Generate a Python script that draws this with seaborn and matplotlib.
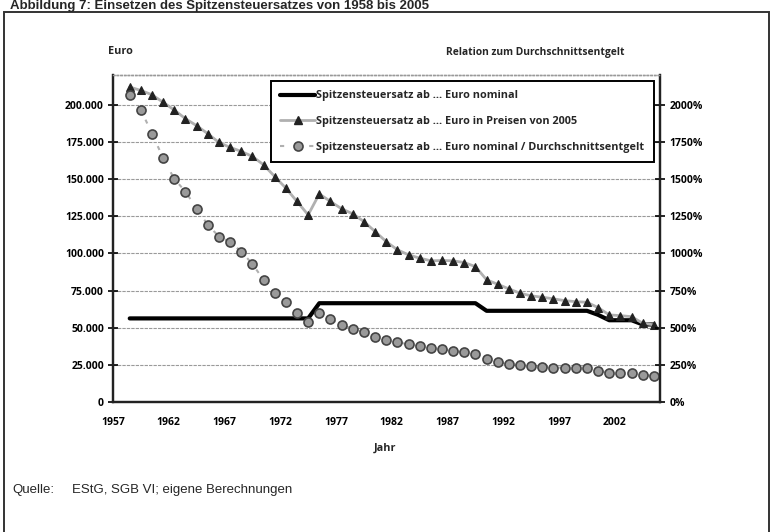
import numpy as np
import pandas as pd
import matplotlib
matplotlib.use("Agg")
import matplotlib.pyplot as plt
import seaborn as sns
from matplotlib.ticker import FuncFormatter
from matplotlib.patches import Rectangle
from matplotlib.lines import Line2D
from matplotlib import font_manager

# data
years = list(range(1958, 2006))

nominal = [56242] * 17 + [66468] * 15 + [61355] * 10 + [58643, 54998, 55008, 55008, 52152, 52152]

real_2005 = [211900, 209600, 206700, 201600, 196400, 190600, 185900, 180500, 174600, 171300,
             168600, 165200, 159600, 151700, 143900, 134900, 125900, 140000, 134900, 130000,
             126600, 121400, 114700, 107900, 102400, 99000, 96800, 95000, 95200, 95000,
             93800, 91100, 82200, 79200, 76100, 73200, 71400, 70500, 69400, 68200,
             67500, 67100, 63500, 58600, 58100, 57400, 53000, 51900]

ratio_pct = [2063, 1966, 1805, 1641, 1500, 1416, 1300, 1192, 1113, 1077,
             1012, 929, 822, 736, 671, 601, 541, 597, 559, 519,
             492, 469, 440, 418, 402, 388, 377, 366, 355, 343,
             335, 323, 287, 267, 256, 249, 245, 238, 231, 231,
             227, 227, 211, 197, 193, 193, 182, 177]

tick_years = [1957, 1962, 1967, 1972, 1977, 1982, 1987, 1992, 1997, 2002]
left_ticks = [0, 25000, 50000, 75000, 100000, 125000, 150000, 175000, 200000]
right_ticks = [0, 250, 500, 750, 1000, 1250, 1500, 1750, 2000]

labels = ["Spitzensteuersatz ab ... Euro nominal",
          "Spitzensteuersatz ab ... Euro in Preisen von 2005",
          "Spitzensteuersatz ab ... Euro nominal / Durchschnittsentgelt"]

df = pd.DataFrame({"Jahr": years, "nominal": nominal, "real": real_2005, "ratio": ratio_pct})

sns.set_style("white")
plt.rcParams["font.family"] = ["Open Sans", "DejaVu Sans"]

installed = {f.name for f in font_manager.fontManager.ttflist}
narrow = "Liberation Sans Narrow" if "Liberation Sans Narrow" in installed else "Liberation Sans"
src_size = 11 if narrow == "Liberation Sans Narrow" else 9.5

fig = plt.figure(figsize=(7.77, 5.32), dpi=100)
ax = fig.add_axes([113 / 777, 1 - 402 / 532, 547 / 777, 327 / 532])
ax2 = ax.twinx()

sns.lineplot(data=df, x="Jahr", y="nominal", ax=ax, color="black", lw=3)
sns.lineplot(data=df, x="Jahr", y="real", ax=ax, color="#b0b0b0", lw=2,
             marker="^", markersize=6, markerfacecolor="#222222", markeredgecolor="#222222")
sns.lineplot(data=df, x="Jahr", y="ratio", ax=ax2, color="#b0b0b0", lw=1.5,
             linestyle=(0, (2, 5)), marker="o", markersize=6.5,
             markerfacecolor="#9a9a9a", markeredgecolor="#444444", markeredgewidth=1.2)

ax.set_xlim(1956.5, 2005.55)
ax.set_ylim(0, 220000)
ax2.set_ylim(0, 2200)

ax.set_xticks([y - 0.5 for y in tick_years])
ax.set_xticklabels([str(y) for y in tick_years])
ax.set_yticks(left_ticks)
ax.yaxis.set_major_formatter(FuncFormatter(lambda v, p: f"{int(v):,}".replace(",", ".")))
ax2.set_yticks(right_ticks)
ax2.yaxis.set_major_formatter(FuncFormatter(lambda v, p: f"{int(v)}%"))

for a in (ax, ax2):
    a.set_xlabel("")
    a.set_ylabel("")
    a.tick_params(axis="both", direction="inout", length=7, width=1.2, labelsize=7.5, colors="black")
    for lab in a.get_xticklabels() + a.get_yticklabels():
        lab.set_fontweight("bold")
    for s in ("left", "right", "bottom"):
        a.spines[s].set_color("#222222")
        a.spines[s].set_linewidth(1.6)
    a.spines["top"].set_color("#999999")
    a.spines["top"].set_linestyle(":")
    a.spines["top"].set_linewidth(1.0)
ax.tick_params(axis="x", pad=7)
ax.tick_params(axis="y", pad=3)

ax.yaxis.grid(True, color="#9a9a9a", lw=0.8, ls=(0, (3, 1)))
ax.xaxis.grid(False)
ax2.grid(False)

handles = [Line2D([], [], color="black", lw=3),
           Line2D([], [], color="#b0b0b0", lw=2, marker="^", markersize=6,
                  markerfacecolor="#222222", markeredgecolor="#222222"),
           Line2D([], [], color="#b0b0b0", lw=1.5, linestyle=(0, (2, 5)), marker="o", markersize=6.5,
                  markerfacecolor="#9a9a9a", markeredgecolor="#444444", markeredgewidth=1.2)]
leg = ax2.legend(handles, labels, loc="upper right", bbox_to_anchor=(0.989, 0.983),
                 borderaxespad=0, fancybox=False, framealpha=1, edgecolor="black",
                 prop={"weight": "bold", "size": 7.8}, handlelength=3.2, handletextpad=0.1,
                 labelspacing=1.35, borderpad=0.9)
leg.get_frame().set_linewidth(1.4)

fig.text(120 / 777, 1 - 52 / 532, "Euro", ha="center", va="center", fontsize=7.8, fontweight="bold")
fig.text(535 / 777, 1 - 52 / 532, "Relation zum Durchschnittsentgelt", ha="center", va="center",
         fontsize=7.4, fontweight="bold")
fig.text(385 / 777, 1 - 448 / 532, "Jahr", ha="center", va="center", fontsize=7.8, fontweight="bold")

fig.text(12 / 777, 1 - 490 / 532, "Quelle:", ha="left", va="center", fontsize=src_size,
         family=narrow)
fig.text(72 / 777, 1 - 490 / 532, "EStG, SGB VI; eigene Berechnungen", ha="left", va="center",
         fontsize=src_size, family=narrow)

fig.text(10 / 777, 1 - 9 / 532, "Abbildung 7: Einsetzen des Spitzensteuersatzes von 1958 bis 2005",
         ha="left", va="baseline", fontsize=9.5, fontweight="bold", family="Liberation Sans")

fig.patches.append(Rectangle((4 / 777, -0.02), 765 / 777, 1.02 - 12 / 532, transform=fig.transFigure,
                             fill=False, edgecolor="#333333", lw=1.4))

fig.savefig("out.png", dpi=100)
